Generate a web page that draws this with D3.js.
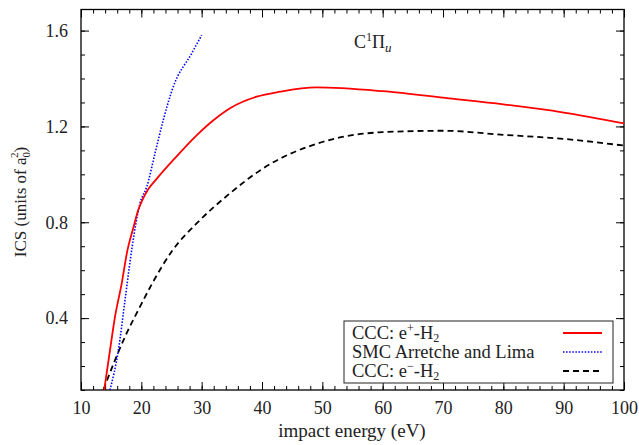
<!DOCTYPE html>
<html lang="en">
<head>
<meta charset="UTF-8">
<title>C1Pi_u ICS</title>
<script src="https://d3js.org/d3.v7.min.js"></script>
<style>
  body { margin: 0; background: #fff; }
  text { font-family: "Liberation Serif", "DejaVu Serif", serif; }
</style>
</head>
<body>
<script>
// CCC e+ - H2
var posE   = [13.85, 15.0, 15.64, 16.75, 17.7, 18.6, 19.5, 20.3, 21.2, 22.5, 25.3, 29.2, 32, 34.7, 39.1, 43, 49, 60, 71, 80, 90, 100];
var posICS = [0.1, 0.3, 0.406, 0.545, 0.684, 0.77, 0.852, 0.9, 0.94, 0.98, 1.06, 1.164, 1.227, 1.276, 1.324, 1.345, 1.363, 1.347, 1.317, 1.292, 1.258, 1.213];
// SMC Arretche and Lima
var smcE   = [14.8, 16.2, 17.3, 18.4, 19.78, 20.9, 22.27, 23.64, 25.3, 28.35, 30.0];
var smcICS = [0.1, 0.267, 0.476, 0.684, 0.879, 0.948, 1.088, 1.227, 1.366, 1.505, 1.581];
// CCC e- - H2
var eleE   = [13.7, 15.64, 17.29, 19.5, 21.7, 25.2, 29.2, 34.7, 40, 50, 60, 70, 80, 90, 100];
var eleICS = [0.1, 0.225, 0.322, 0.434, 0.54, 0.684, 0.796, 0.921, 1.022, 1.135, 1.176, 1.182, 1.165, 1.148, 1.12];

var xTicks = [10, 20, 30, 40, 50, 60, 70, 80, 90, 100];
var yTicks = [0.4, 0.8, 1.2, 1.6];

var W = 639, H = 445;
var pl = 81, pr = 624, pt = 9.5, pb = 390;

var x = d3.scaleLinear().domain([10, 100]).range([pl, pr]);
var y = d3.scaleLinear().domain([0.1, 1.688]).range([pb, pt]);

var svg = d3.select("body").append("svg").attr("width", W).attr("height", H);

svg.append("clipPath").attr("id", "clip")
  .append("rect").attr("x", pl).attr("y", pt).attr("width", pr - pl).attr("height", pb - pt);

var xMinor = d3.range(10, 100.1, 2);
var yMinor = d3.range(0.1, 1.69, 0.1);

function ticks(g) { g.select(".domain").remove(); g.selectAll("line").attr("stroke", "#000"); }

// minor ticks
svg.append("g").attr("transform", "translate(0," + pb + ")")
  .call(d3.axisBottom(x).tickValues(xMinor).tickSize(-4).tickFormat("")).call(ticks);
svg.append("g").attr("transform", "translate(0," + pt + ")")
  .call(d3.axisTop(x).tickValues(xMinor).tickSize(-4).tickFormat("")).call(ticks);
svg.append("g").attr("transform", "translate(" + pl + ",0)")
  .call(d3.axisLeft(y).tickValues(yMinor).tickSize(-4).tickFormat("")).call(ticks);
svg.append("g").attr("transform", "translate(" + pr + ",0)")
  .call(d3.axisRight(y).tickValues(yMinor).tickSize(-4).tickFormat("")).call(ticks);

// major ticks
var xb = svg.append("g").attr("transform", "translate(0," + pb + ")")
  .call(d3.axisBottom(x).tickValues(xTicks).tickSize(-8).tickPadding(11).tickFormat(d3.format("d"))).call(ticks);
xb.selectAll("text").attr("font-size", 18).attr("fill", "#222");
svg.append("g").attr("transform", "translate(0," + pt + ")")
  .call(d3.axisTop(x).tickValues(xTicks).tickSize(-8).tickFormat("")).call(ticks);
var yl = svg.append("g").attr("transform", "translate(" + pl + ",0)")
  .call(d3.axisLeft(y).tickValues(yTicks).tickSize(-8).tickPadding(13).tickFormat(d3.format(".1f"))).call(ticks);
yl.selectAll("text").attr("font-size", 18).attr("fill", "#222");
svg.append("g").attr("transform", "translate(" + pr + ",0)")
  .call(d3.axisRight(y).tickValues(yTicks).tickSize(-8).tickFormat("")).call(ticks);

// frame
svg.append("rect").attr("x", pl).attr("y", pt).attr("width", pr - pl).attr("height", pb - pt)
  .attr("fill", "none").attr("stroke", "#000").attr("stroke-width", 1.3);

var line = d3.line().x(function(d) { return x(d[0]); }).y(function(d) { return y(d[1]); })
  .curve(d3.curveMonotoneX);
var plot = svg.append("g").attr("clip-path", "url(#clip)");

plot.append("path").datum(d3.zip(eleE, eleICS))
  .attr("d", line).attr("fill", "none")
  .attr("stroke", "#000").attr("stroke-width", 1.8).attr("stroke-dasharray", "6,4");
plot.append("path").datum(d3.zip(smcE, smcICS))
  .attr("d", line).attr("fill", "none")
  .attr("stroke", "#0000ff").attr("stroke-width", 1.6).attr("stroke-dasharray", "1.5,1.6");
plot.append("path").datum(d3.zip(posE, posICS))
  .attr("d", line).attr("fill", "none")
  .attr("stroke", "#ff0000").attr("stroke-width", 1.8);

// title
var t = svg.append("text").attr("x", 354).attr("y", 48).attr("font-size", 18).attr("fill", "#222");
t.append("tspan").text("C");
t.append("tspan").attr("dy", -7).attr("font-size", 12).text("1");
t.append("tspan").attr("dy", 7).text("Π");
t.append("tspan").attr("dy", 4).attr("font-size", 13).attr("font-style", "italic").text("u");

// axis labels
svg.append("text").attr("x", 352).attr("y", 437).attr("text-anchor", "middle")
  .attr("font-size", 19).attr("fill", "#222").text("impact energy (eV)");

var yt = svg.append("text").attr("transform", "translate(26,202) rotate(-90)")
  .attr("text-anchor", "middle").attr("font-size", 17).attr("fill", "#222");
yt.append("tspan").text("ICS (units of a");
yt.append("tspan").attr("dy", 4).attr("font-size", 11).text("0");
yt.append("tspan").attr("dx", -6).attr("dy", -12).attr("font-size", 11).text("2");
yt.append("tspan").attr("dy", 8).text(")");

// legend
svg.append("rect").attr("x", 344).attr("y", 321).attr("width", 269).attr("height", 62)
  .attr("fill", "#fff").attr("stroke", "#222").attr("stroke-width", 1);

var legY = [333, 352, 371];
var leg = svg.append("g").attr("font-size", 18.5).attr("fill", "#222");
var l1 = leg.append("text").attr("x", 352).attr("y", legY[0] + 6);
l1.append("tspan").text("CCC: e");
l1.append("tspan").attr("dy", -7).attr("font-size", 12).text("+");
l1.append("tspan").attr("dy", 7).text("-H");
l1.append("tspan").attr("dy", 3).attr("font-size", 12).text("2");
leg.append("text").attr("x", 352).attr("y", legY[1] + 6).text("SMC Arretche and Lima");
var l3 = leg.append("text").attr("x", 352).attr("y", legY[2] + 6);
l3.append("tspan").text("CCC: e");
l3.append("tspan").attr("dy", -7).attr("font-size", 12).text("−");
l3.append("tspan").attr("dy", 7).text("-H");
l3.append("tspan").attr("dy", 3).attr("font-size", 12).text("2");

var styles = [
  {c: "#ff0000", d: null, w: 1.8},
  {c: "#0000ff", d: "1.5,1.6", w: 1.6},
  {c: "#000", d: "6,4", w: 1.8}
];
svg.selectAll(".legline").data(styles).enter().append("line")
  .attr("x1", 563).attr("x2", 602)
  .attr("y1", function(d, i) { return legY[i]; }).attr("y2", function(d, i) { return legY[i]; })
  .attr("stroke", function(d) { return d.c; })
  .attr("stroke-width", function(d) { return d.w; })
  .attr("stroke-dasharray", function(d) { return d.d; });
</script>
</body>
</html>
